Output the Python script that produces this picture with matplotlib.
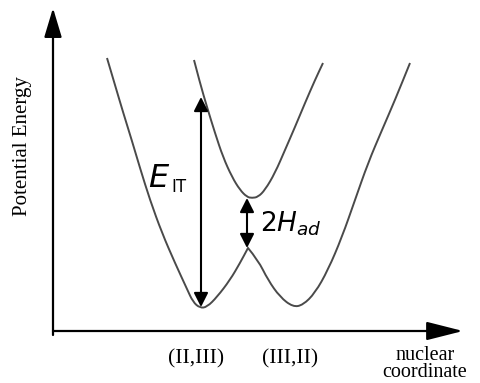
import matplotlib.pyplot as plt
from matplotlib.path import Path
from matplotlib.patches import PathPatch

# adiabatic surfaces (origin = corner of the axes)
lower_x = [54, 62, 70, 79, 87, 97, 109, 122, 134, 140, 147, 154, 164, 177, 187, 195,
           205, 215, 227, 240, 250, 262, 275, 289, 302, 315, 329, 342, 357]
lower_y = [273, 246, 219, 190, 163, 131, 98, 68, 42, 29, 23, 24, 34, 51, 68, 83,
           71, 51, 34, 24, 26, 38, 61, 94, 131, 168, 201, 231, 268]

upper_x = [141, 147, 154, 162, 170, 179, 187, 194, 199, 205, 212, 222, 232, 242, 252, 262, 270]
upper_y = [271, 248, 224, 198, 174, 154, 141, 134, 133, 134, 141, 158, 181, 204, 228, 251, 268]

# energy gaps (x, y bottom, y top)
e_it = (148, 24, 234)
h_ad = (194, 83, 133)

tick_pos = [143, 237]
tick_labels = ['(II,III)', '(III,II)']


def smooth_path(xs, ys, sharp=()):
    # quadratic bezier through the midpoints, read points as control points
    pts = list(zip(xs, ys))
    verts = [pts[0]]
    codes = [Path.MOVETO]
    for i in range(1, len(pts) - 1):
        if i in sharp:
            verts.append(pts[i])
            codes.append(Path.LINETO)
            continue
        mid = ((pts[i][0] + pts[i + 1][0]) / 2, (pts[i][1] + pts[i + 1][1]) / 2)
        verts += [pts[i], mid]
        codes += [Path.CURVE3, Path.CURVE3]
    verts.append(pts[-1])
    codes.append(Path.LINETO)
    return Path(verts, codes)


fig = plt.figure(figsize=(4.81, 3.83), dpi=100)
ax = fig.add_axes([0, 0, 1, 1])
ax.set_xlim(-53, 428)
ax.set_ylim(-52, 331)
ax.axis('off')

curve_color = '#4a4a4a'
ax.add_patch(PathPatch(smooth_path(lower_x, lower_y, sharp=(15,)), fill=False,
                       edgecolor=curve_color, lw=1.4))
ax.add_patch(PathPatch(smooth_path(upper_x, upper_y), fill=False,
                       edgecolor=curve_color, lw=1.4))

# axes with arrows
ax.annotate('', xy=(0, 323), xytext=(0, -4),
            arrowprops=dict(arrowstyle='-|>,head_length=0.6,head_width=0.18',
                            mutation_scale=30, lw=1.6, color='black',
                            shrinkA=0, shrinkB=0))
ax.annotate('', xy=(410, 0), xytext=(0, 0),
            arrowprops=dict(arrowstyle='-|>,head_length=0.75,head_width=0.19',
                            mutation_scale=30, lw=1.6, color='black',
                            shrinkA=0, shrinkB=0))

for x, y0, y1 in (e_it, h_ad):
    ax.annotate('', xy=(x, y1), xytext=(x, y0),
                arrowprops=dict(arrowstyle='<|-|>,head_length=0.85,head_width=0.43',
                                mutation_scale=10, lw=1.5, color='black',
                                shrinkA=0, shrinkB=0))

# labels on the gaps
ax.text(95, 144, 'E', fontsize=23, style='italic', ha='left', va='baseline')
ax.text(118, 139, 'IT', fontsize=12, ha='left', va='baseline')
ax.text(207, 99, r'2$H_{ad}$', fontsize=19, ha='left', va='baseline')

serif = ['Liberation Serif', 'DejaVu Serif']
ax.text(-31, 185, 'Potential Energy', fontsize=15, family=serif,
        rotation=90, ha='center', va='center')
for x, lab in zip(tick_pos, tick_labels):
    ax.text(x, -28, lab, fontsize=15.5, family=serif, ha='center', va='center')
ax.text(372, -33, 'nuclear\ncoordinate', fontsize=14.5, family=serif,
        ha='center', va='center', multialignment='center', linespacing=0.85)

fig.savefig('out.png', dpi=100)
